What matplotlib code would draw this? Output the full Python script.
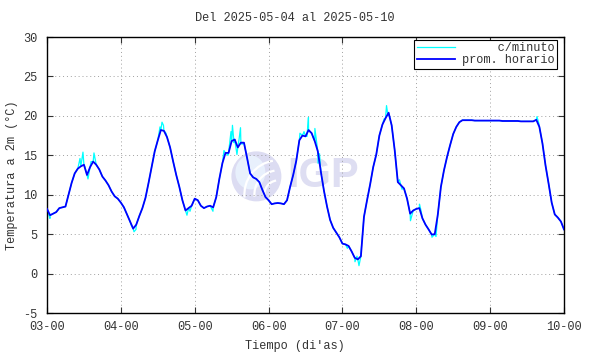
import numpy as np
import matplotlib
matplotlib.use('Agg')
import matplotlib.pyplot as plt
from matplotlib.patches import Ellipse, Arc

plt.rcParams['font.family'] = ['Liberation Mono', 'DejaVu Sans Mono']
plt.rcParams['axes.unicode_minus'] = False

# hourly means (prom. horario), one value per hour from day 3 00h to day 10 00h
day3 = [8.2, 7.4, 7.6, 7.8, 8.3, 8.4, 8.5, 10.0, 11.5, 12.7, 13.3, 13.6,
        13.8, 12.5, 13.5, 14.2, 13.8, 13.2, 12.3, 11.8, 11.2, 10.4, 9.8, 9.5]
day4 = [9.0, 8.4, 7.5, 6.6, 5.7, 6.2, 7.3, 8.3, 9.6, 11.5, 13.5, 15.5,
        16.9, 18.2, 18.1, 17.3, 16.0, 14.2, 12.5, 11.0, 9.3, 8.0, 8.3, 8.6]
day5 = [9.5, 9.3, 8.6, 8.3, 8.5, 8.6, 8.4, 9.7, 12.0, 14.0, 15.3, 15.3,
        16.8, 17.0, 16.0, 16.6, 16.6, 14.7, 12.7, 12.2, 12.0, 11.6, 10.6, 9.7]
day6 = [9.3, 8.8, 8.9, 8.95, 8.9, 8.8, 9.3, 11.0, 12.5, 14.3, 16.9, 17.5,
        17.4, 18.2, 17.8, 16.8, 15.5, 12.9, 10.5, 8.5, 6.8, 5.8, 5.2, 4.6]
day7 = [3.8, 3.7, 3.5, 2.8, 2.0, 1.8, 2.2, 7.2, 9.3, 11.3, 13.5, 15.1,
        17.5, 18.9, 19.7, 20.4, 18.8, 15.6, 11.6, 11.2, 10.8, 9.5, 7.6, 8.0]
day8 = [8.2, 8.3, 7.0, 6.2, 5.6, 4.95, 5.0, 7.5, 11.0, 13.1, 14.8, 16.3,
        17.7, 18.6, 19.2, 19.45, 19.45, 19.45, 19.45, 19.4, 19.4, 19.4, 19.4, 19.4]
day9 = [19.4, 19.4, 19.4, 19.4, 19.35, 19.35, 19.35, 19.35, 19.35, 19.35, 19.3, 19.3,
        19.3, 19.3, 19.3, 19.5, 18.6, 16.5, 13.7, 11.4, 9.0, 7.5, 7.1, 6.6]
day10 = [5.6]

# extra minute samples (c/minuto) where they stick out from the hourly line
spike_t = [3.04, 3.447, 3.487, 3.514, 3.555, 3.596, 3.636, 3.663,
           4.137, 4.178, 4.205, 4.53, 4.557, 4.577, 4.611, 4.895, 4.936,
           5.247, 5.396, 5.451, 5.491, 5.511, 5.532, 5.572, 5.60, 5.62, 5.64,
           6.425, 6.48, 6.52, 6.54, 6.56, 6.60, 6.627, 6.67, 6.69,
           7.067, 7.17, 7.197, 7.224, 7.251, 7.563, 7.597, 7.617, 7.772, 7.806, 7.921,
           8.043, 8.064, 8.212, 8.267, 9.634, 9.661]
spike_v = [7.0, 14.6, 15.4, 13.5, 12.0, 14.2, 15.3, 14.0,
           6.2, 5.3, 5.6, 18.6, 19.2, 18.8, 17.8, 7.4, 7.9,
           7.9, 15.6, 15.0, 18.0, 18.8, 16.6, 15.1, 17.0, 18.5, 16.4,
           17.8, 18.0, 17.4, 19.8, 18.0, 17.3, 18.4, 14.0, 15.2,
           3.2, 1.5, 2.2, 1.0, 2.6, 19.6, 21.3, 20.0, 11.9, 10.7, 6.7,
           8.8, 8.0, 4.6, 4.7, 19.9, 19.0]

xtick_pos = [3, 4, 5, 6, 7, 8, 9, 10]
xtick_labels = ['03-00', '04-00', '05-00', '06-00', '07-00', '08-00', '09-00', '10-00']

hourly = np.array(day3 + day4 + day5 + day6 + day7 + day8 + day9 + day10)
t_hour = 3 + np.arange(len(hourly)) / 24.0

t_min = np.concatenate([t_hour, spike_t])
v_min = np.concatenate([hourly, spike_v])
order = np.argsort(t_min)
t_min, v_min = t_min[order], v_min[order]

fig = plt.figure(figsize=(5.9, 3.54), dpi=100)
ax = fig.add_axes([47 / 590, 1 - 313 / 354, 517 / 590, 276 / 354])

# IGP watermark (globe + letters)
sx, sy = 1 / 517, 1 / 276   # one pixel in axes fraction
cx, cy = 0.405, 0.495
ax.add_patch(Ellipse((cx, cy), 50 * sx, 50 * sy, facecolor='#dcdcf2', edgecolor='none',
                     transform=ax.transAxes, zorder=0.5))
ax.add_patch(Ellipse((cx - 6 * sx, cy + 4 * sy), 30 * sx, 34 * sy, facecolor='#e8f0fc',
                     edgecolor='none', transform=ax.transAxes, zorder=0.6))
for r in (14, 24, 34):
    ax.add_patch(Arc((cx + 22 * sx, cy - 18 * sy), 2 * r * sx, 2 * r * sy, theta1=95,
                     theta2=190, color='white', lw=1.6, transform=ax.transAxes, zorder=0.7))
ax.text(0.534, 0.495, 'IGP', transform=ax.transAxes, ha='center', va='center',
        fontsize=30, fontweight='bold', family='Liberation Sans', color='#dedef2', zorder=0.5)

ax.plot(t_min, v_min, color='#00ffff', lw=0.9, label='     c/minuto', zorder=2)
ax.plot(t_hour, hourly, color='#0000ff', lw=1.3, label='prom. horario', zorder=3)

ax.set_xlim(3, 10)
ax.set_ylim(-5, 30)
ax.set_xticks(xtick_pos)
ax.set_xticklabels(xtick_labels)
ax.set_yticks(np.arange(-5, 31, 5))
ax.tick_params(direction='in', top=True, right=True, length=4, width=0.8,
               labelsize=8.6, colors='#333333', labelcolor='#333333')
ax.tick_params(axis='x', pad=6)
ax.tick_params(axis='y', pad=7)
ax.grid(True, color='#a0a0a0', lw=0.7, linestyle=(0, (1, 3)))
for s in ax.spines.values():
    s.set_linewidth(1.0)
    s.set_color('black')

fig.text(0.5, 1 - 18 / 354, 'Del 2025-05-04 al 2025-05-10', ha='center', va='center',
         fontsize=8.6, color='#333333')
fig.text(0.5, 1 - 346 / 354, "Tiempo (di'as)", ha='center', va='center',
         fontsize=8.6, color='#333333')
fig.text(12 / 590, 1 - 175 / 354, 'Temperatura a 2m (°C)', ha='center', va='center',
         rotation=90, fontsize=8.6, color='#333333')

leg = ax.legend(loc='upper right', bbox_to_anchor=(1 - 7 / 517, 1 - 3 / 276),
                borderaxespad=0, fancybox=False, framealpha=1, edgecolor='black',
                fontsize=8.6, handlelength=3.2, borderpad=0.2, labelspacing=0.0,
                handletextpad=0.6)
leg.get_frame().set_linewidth(0.8)
for txt in leg.get_texts():
    txt.set_color('#333333')

fig.savefig('out.png', dpi=100)
